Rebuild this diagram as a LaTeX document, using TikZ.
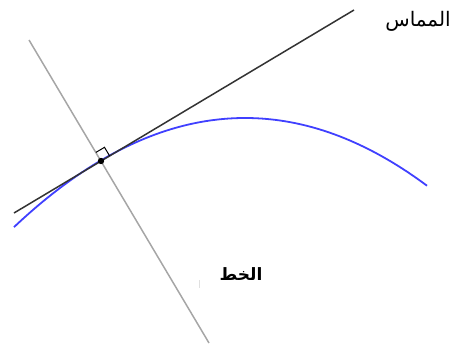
\documentclass[tikz,border=0pt]{standalone}
\usepackage{fontspec}
\usetikzlibrary{calc}
\setmainfont{Liberation Sans}
\newfontfamily\arabicfont[Script=Arabic]{DejaVu Sans}
\TeXXeTstate=1
\begin{document}
\begin{tikzpicture}[x=1pt,y=-1pt,
  tangentline/.style={draw=black!80, line width=1.5pt},
  normalline/.style={draw=black!35, line width=1.5pt},
  curveline/.style={draw={rgb,255:red,64;green,64;blue,255}, line width=1.8pt},
  lbl/.style={inner sep=0pt, font=\arabicfont\fontsize{20}{24}\selectfont}]
\useasboundingbox (0,0) rectangle (452,348);
\coordinate (T1) at (14,213);
\coordinate (T2) at (354,10);
\coordinate (N1) at (29,40);
\coordinate (N2) at (209,343);
\coordinate (P) at (101,161);
\draw[curveline] plot[domain=14:427, samples=80, smooth] (\x, {118+0.00205*(\x-245)*(\x-245)});
\draw[normalline] (N1) -- (N2);
\draw[tangentline] (T1) -- (T2);
\draw[black, line width=1pt] ($(P)+(8.6,-5.1)$) -- ($(P)+(8.6-5.1,-5.1-8.6)$) -- ($(P)+(-5.1,-8.6)$);
\fill[black] (P) circle (3.2);
\draw[black!12, line width=1pt] (199,280) -- (199,288);
\node[lbl] (tang) at (418,21) {\beginR المماس\endR};
\node[lbl, font=\arabicfont\bfseries\fontsize{17}{20}\selectfont] (khat) at (241,274) {\beginR الخط\endR};
\end{tikzpicture}
\end{document}
